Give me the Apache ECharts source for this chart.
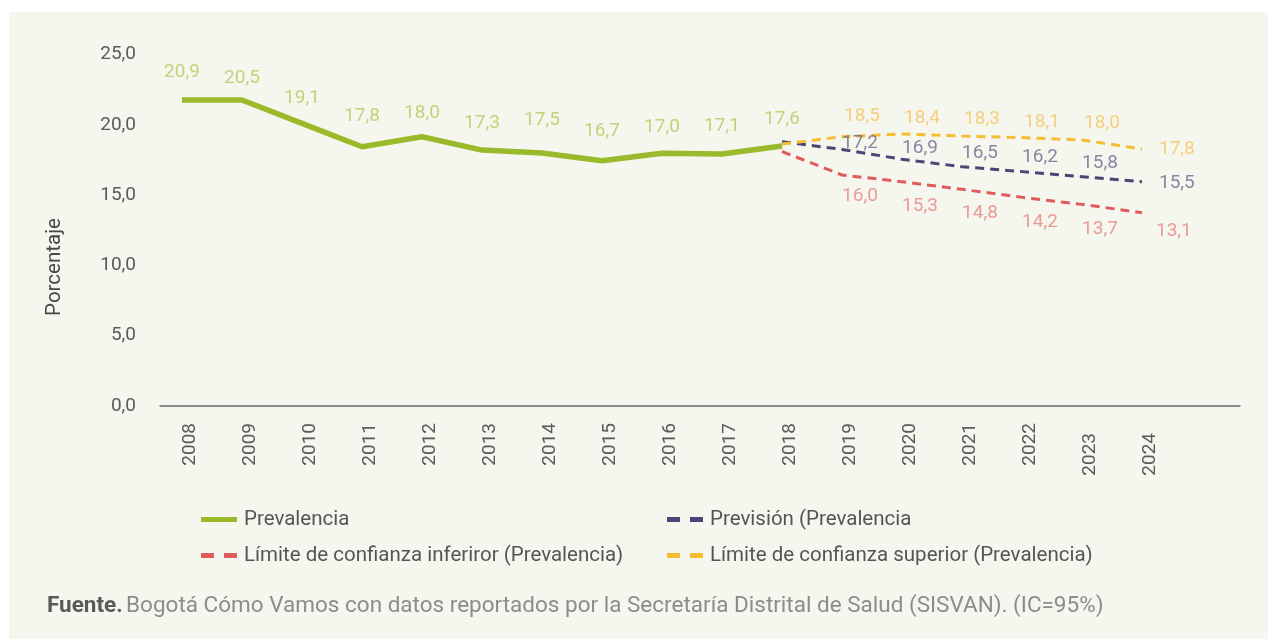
<!DOCTYPE html>
<html>
<head>
<meta charset="utf-8">
<script src="https://cdn.jsdelivr.net/npm/echarts@6/dist/echarts.min.js"></script>
<style>
  html, body { margin: 0; padding: 0; background: #ffffff; }
  #chart { width: 1268px; height: 639px; }
</style>
</head>
<body>
<div id="chart"></div>
<script>
// categorias (la ultima vacia, el eje llega hasta ahi)
const years = ['2008','2009','2010','2011','2012','2013','2014','2015','2016','2017','2018','2019','2020','2021','2022','2023','2024',''];

// posiciones de las lineas
const prevalencia = [21.76, 21.76, 20.1, 18.44, 19.15, 18.2, 18.0, 17.45, 17.97, 17.92, 18.49, null, null, null, null, null, null];
const prevision   = [null, null, null, null, null, null, null, null, null, null, 18.8, 18.25, 17.55, 17.02, 16.67, 16.31, 15.95];
const limInferior = [null, null, null, null, null, null, null, null, null, null, 18.1, 16.43, 15.95, 15.41, 14.84, 14.34, 13.75];
const limSuperior = [null, null, null, null, null, null, null, null, null, null, 18.63, 19.15, 19.35, 19.2, 19.09, 18.92, 18.28];

// valores rotulados
const etqPrevalencia = [20.9, 20.5, 19.1, 17.8, 18.0, 17.3, 17.5, 16.7, 17.0, 17.1, 17.6, null, null, null, null, null, null];
const etqPrevision   = [null, null, null, null, null, null, null, null, null, null, null, 17.2, 16.9, 16.5, 16.2, 15.8, 15.5];
const etqInferior    = [null, null, null, null, null, null, null, null, null, null, null, 16.0, 15.3, 14.8, 14.2, 13.7, 13.1];
const etqSuperior    = [null, null, null, null, null, null, null, null, null, null, null, 18.5, 18.4, 18.3, 18.1, 18.0, 17.8];

const yTicks = { min: 0, max: 25, interval: 5 };

const FONT = 'Roboto';
const coma = v => v.toFixed(1).replace('.', ',');

const chart = echarts.init(document.getElementById('chart'));

// serie invisible que solo pone los rotulos
function rotulos(name, values, color, pos, dist, off, last) {
  const n = values.length;
  return {
    name: name, type: 'scatter', xAxisIndex: 1, yAxisIndex: 1,
    symbolSize: 0, silent: true, z: 5,
    data: values.map((v, i) => {
      if (v == null) return null;
      const item = { value: v };
      if (i === n - 1 && last) {
        item.label = { position: 'right', distance: last[0], offset: [0, last[1]] };
      }
      return item;
    }),
    label: {
      show: true, position: pos, distance: dist, offset: off,
      color: color, fontFamily: FONT, fontSize: 19,
      formatter: p => coma(p.value)
    }
  };
}

// los dos ultimos años van un poco mas abajo en el original
const xLabels = years.map(y => (y === '2023' || y === '2024')
  ? { value: y, textStyle: { padding: [0, 10, 0, 0] } }
  : y);

const dashIcon = 'path://M0,0H13V5H0Z M23,0H36V5H23Z';
const legendText = { fontFamily: FONT, fontSize: 20.5, color: '#555555', padding: [0, 0, 0, 2], lineHeight: 20 };

const option = {
  backgroundColor: '#ffffff',
  animation: false,
  graphic: [
    { type: 'rect', z: -10, shape: { x: 9, y: 12, width: 1259, height: 627 }, style: { fill: '#f5f6ee' } },
    {
      type: 'text', x: 55, y: 267, rotation: Math.PI / 2,
      style: {
        text: 'Porcentaje', fontFamily: FONT, fontSize: 20.5, fill: '#474747',
        align: 'center', verticalAlign: 'middle'
      }
    },
    {
      type: 'text', x: 47, y: 606,
      style: {
        text: '{b|Fuente.} {n|Bogotá Cómo Vamos con datos reportados por la Secretaría Distrital de Salud (SISVAN). (IC=95%)}',
        verticalAlign: 'middle',
        rich: {
          b: { fontFamily: FONT, fontSize: 22.5, fontWeight: 'bold', fill: '#595959' },
          n: { fontFamily: FONT, fontSize: 22.5, fill: '#8c8c8c' }
        }
      }
    }
  ],
  grid: [
    { left: 160, top: 54.5, width: 1080, height: 351.5 },
    { left: 152, top: 54.5, width: 1080, height: 351.5 }
  ],
  legend: [
    {
      left: 196, top: 504, orient: 'vertical', itemGap: 15,
      itemWidth: 36, itemHeight: 5, textStyle: legendText,
      data: [
        { name: 'Prevalencia', icon: 'rect' },
        { name: 'Límite de confianza inferiror (Prevalencia)', icon: dashIcon }
      ]
    },
    {
      left: 662, top: 504, orient: 'vertical', itemGap: 15,
      itemWidth: 36, itemHeight: 5, textStyle: legendText,
      data: [
        { name: 'Previsión (Prevalencia', icon: dashIcon },
        { name: 'Límite de confianza superior (Prevalencia)', icon: dashIcon }
      ]
    }
  ],
  xAxis: [
    {
      type: 'category', gridIndex: 0, data: xLabels, boundaryGap: true,
      axisLine: { lineStyle: { color: '#6b6b6b', width: 1.5 } },
      axisTick: { show: false },
      axisLabel: { rotate: 90, margin: 17, interval: 0, color: '#5a5a5a', fontFamily: FONT, fontSize: 19 }
    },
    { type: 'category', gridIndex: 1, data: years, boundaryGap: true, show: false }
  ],
  yAxis: [
    {
      type: 'value', gridIndex: 0, min: yTicks.min, max: yTicks.max, interval: yTicks.interval,
      axisLine: { show: false }, axisTick: { show: false }, splitLine: { show: false },
      axisLabel: { margin: 24, color: '#5a5a5a', fontFamily: FONT, fontSize: 19, formatter: v => coma(v) }
    },
    { type: 'value', gridIndex: 1, min: yTicks.min, max: yTicks.max, interval: yTicks.interval, show: false }
  ],
  series: [
    {
      name: 'Prevalencia', type: 'line', xAxisIndex: 1, yAxisIndex: 1,
      data: prevalencia, symbol: 'none', color: '#9bba2b',
      lineStyle: { width: 5.5, color: '#9bba2b' }, z: 4
    },
    {
      name: 'Previsión (Prevalencia', type: 'line', xAxisIndex: 1, yAxisIndex: 1,
      data: prevision, symbol: 'none', color: '#4a4675',
      lineStyle: { width: 3, color: '#4a4675', type: [9, 6] }
    },
    {
      name: 'Límite de confianza inferiror (Prevalencia)', type: 'line', xAxisIndex: 1, yAxisIndex: 1,
      data: limInferior, symbol: 'none', color: '#e05c5c',
      lineStyle: { width: 3, color: '#e05c5c', type: [9, 6] }
    },
    {
      name: 'Límite de confianza superior (Prevalencia)', type: 'line', xAxisIndex: 1, yAxisIndex: 1,
      data: limSuperior, symbol: 'none', color: '#f6bd33',
      lineStyle: { width: 3, color: '#f6bd33', type: [9, 6] }
    },
    rotulos('r1', etqPrevalencia, '#b3cb5e', 'top', 30, [0, 0], null),
    rotulos('r2', etqPrevision, '#6d6990', 'top', 11, [18, 0], [17, -5]),
    rotulos('r3', etqInferior, '#e8847f', 'bottom', 6, [18, 0], [14, 9]),
    rotulos('r4', etqSuperior, '#f6c660', 'top', 20, [20, 0], [17, -6])
  ]
};

chart.setOption(option);
</script>
</body>
</html>
